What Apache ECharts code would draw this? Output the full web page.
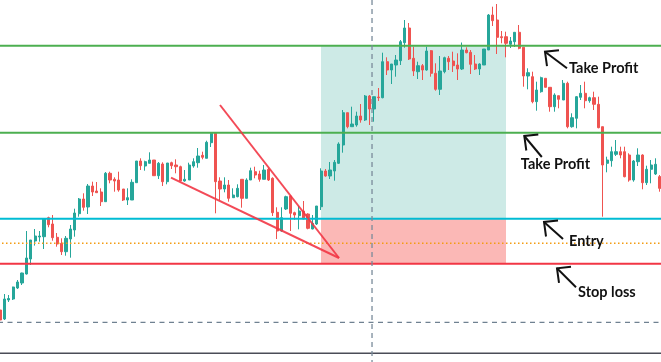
<!DOCTYPE html>
<html><head><meta charset="utf-8">
<script src="https://cdn.jsdelivr.net/npm/echarts@6/dist/echarts.min.js"></script>
<style>html,body{margin:0;padding:0;background:#fff}#c{width:661px;height:362px}</style>
</head><body><div id="c"></div>
<script>
// candle OHLC values: [open, close, low, high]
const candles = [
[690,680,678,693],[681,701,680,706],[700,701.5,698,705],[701,713,700,713.3],[712,718,711,720],
[717,727,715,727.3],[726,742,725.5,769],[741,760,735,760],[759,764,754.4,771],[763,764,758.3,769],
[763.3,781.3,751,781.3],[782.3,775.3,772.7,783.3],[776,762.3,759.3,785],[762.7,756,753.3,767],[756.7,748.3,745,761.7],
[748.3,761.7,744.3,764],[761,771,742.3,775],[770,787,763.3,791.3],[786.3,801,783.3,802],[801,792.7,789.3,806.7],
[793,814,786,816],[814,808,804,818.3],[809,807.3,807.3,818],[808,798.3,794,811.7],[798.3,826.7,798.3,828],
[826.7,820,816.7,828.3],[820.7,819,808.3,822.7],[820,810,808.3,828.3],[811,800,799,811],[800,802.3,795,811.7],
[800,817.7,800,820.7],[817.3,839,817.3,839],[839,834.3,830,841.7],[834,838.3,829.3,839.3],[836.7,840,836.7,847.7],
[840,824.3,824.3,840],[824.3,836.7,821,838],[836,818.3,814,837.7],[818.3,837,815.7,837],[837.3,834.3,831,838.3],
[835,833.3,826.7,840.7],[833.3,819,819,834.3],[819,820.7,818.3,830],[820,835,820,837.3],[834,838.3,832.3,841.7],
[837.3,844,832.3,852],[844.7,842.7,840.7,848.3],[841.7,857.7,841.7,859.3],[857.3,866.7,853,868],[866.7,818.3,786.7,868],
[819,811,800,822.7],[811,815,807.7,822.7],[815,801.7,798.3,820],[802.3,805,802.3,811.7],[803.3,811.7,802.7,815.7],
[820.7,801.7,792.3,820.7],[801.7,820,801.7,821.7],[820,829.3,820,832.3],[828.3,825,821.7,833.3],[826,820.7,818.3,829.3],
[820.7,830,820.7,835],[830.7,820,819,832.3],[821.7,787.3,784,822.7],[787.7,769,761,792.7],[769,782.3,768.3,792.7],
[791,803.3,790,804.3],[804,786.7,769,805],[787.3,785,780,788.3],[784.3,789,770.7,794],[789,781,780.7,799],
[786,771.7,770.7,786.7],[771,776.7,770.7,785],[776,794,775,794],[793.3,829,790,831.7],[829,824,823.3,831],
[824,830,821,838],[829,837.7,819.3,840],[836.7,856,836,857.7],[855,887.3,847.3,890],[887.3,873.3,871.7,887.3],
[873.3,876,873.3,893.3],[875,884,873.3,888.3],[884,880,877.3,896],[880,904,879,905],[904,891,875,905],
[891,903.3,878.3,903.3],[903,902.3,899,912],[902.3,938.3,901.7,947.3],[938.3,930,925,942.7],[930,936,916,936],
[935,940,923.3,945],[939.3,958.3,935,960],[957.3,972,952.3,980],[972,941,940,977],[941.7,929,924,953.3],
[928.3,934.3,921,938.3],[934.3,930,920,936],[930,949,929.3,953.3],[949.3,926.7,923.3,950],[926.7,910.7,909.3,936.7],
[910.7,929,905,944],[928.3,942.3,926.7,943.3],[941.7,938.3,930,944],[939,934.3,928,948.3],[935,931,920,946.7],
[931,950,930,957.5],[950,947.3,946.7,952.7],[947.7,935.7,926,950],[936,931,930,945],[931,936,925,936.7],
[935,951,935,951],[950,985,950,986],[985,979.3,974,993.3],[980,962.7,946,996],[963.3,962.3,956.7,969],
[963.3,956.7,942.7,968.3],[955.7,959,952,963],[958.3,967.7,953,967.7],[967.7,951.7,950.7,975],[952.7,924,913.3,952.7],
[924,927.3,910.7,931.7],[923.3,898.3,896.7,928.3],[898.3,910,889.3,918.3],[908.3,922.3,907.3,923.3],[921.7,912.7,912.7,921.7],
[912.7,893.3,888.3,912.7],[893.3,905,888.3,906.7],[904.3,900.7,891.7,904.3],[900,916.7,900,920],[916.7,873.3,871.7,918.3],
[873.3,882.3,872.3,886.7],[881.7,903.3,871.7,904],[902.7,906.7,900,915],[906.7,899.3,891.7,918.3],[899.3,902.3,897.3,903.3],
[902.3,895.7,890,908.3],[895.7,872.3,871.7,903.3],[873.3,835,783.3,873.3],[836.7,840,827.7,843.3],[839.3,848.3,833.3,853.3],
[845.7,848.3,844,860],[848.3,845,841.7,853.3],[848.3,823.3,822.7,853.3],[845,820,818.3,846.7],[820,839,818.3,840],
[838.3,845,834,851.7],[845,817.3,810.7,845.7],[817.3,830.7,815,834.3],[830.7,835,816.7,840],[826,835.7,825,841.7],
[823.3,811.7,808.3,825]
];
const categories = candles.map((_, i) => String(i));

// price levels
const levelPrices = [954.3, 867.3, 781.3, 756.7, 736.3, 677.7, 646.7];
const levelNames  = ['Take Profit 2', 'Take Profit 1', 'Entry', 'Mid', 'Stop loss', 'Low', 'Base'];
const levelColors = ['#4caf50', '#4caf50', '#00bcd4', '#f39c12', '#f23645', '#6f8191', '#4a4c57'];
const levelWidths = [2, 2, 2, 1.5, 2, 1.3, 1.6];
const levelDashes = [null, null, null, [1.5, 2.5], null, [5, 4.5], null];

// position tool zones: [x start, x end, top price, bottom price]
const zoneProfit = [72.95, 115, 954.3, 781.3];
const zoneLoss   = [72.95, 115, 781.3, 736.3];

// falling wedge trend lines: [x1, p1, x2, p2]
const wedgeUpper = [50, 895, 77.05, 742];
const wedgeLower = [38.86, 822.3, 77.05, 742];

// vertical cursor line position
const cursorX = 84.55;

// annotations: arrow tip [x, price]
const noteLabels = ['Take Profit', 'Take Profit', 'Entry', 'Stop loss'];
const noteX      = [123.86, 119.16, 123.64, 126.59];
const notePrice  = [948.3, 864, 778, 731.7];
// styling offsets in pixels (shaft end, text anchor)
const noteShaft = [[22,16.5],[17.5,21],[19,17],[19,19]];
const noteText  = [[24,16.3],[-3.5,28],[25,19.5],[21,24]];

const chart = echarts.init(document.getElementById('c'), null, {renderer: 'canvas'});

function levelRender(params, api) {
  const i = params.dataIndex;
  const cs = params.coordSys;
  const y = api.coord([0, levelPrices[i]])[1];
  const style = {stroke: levelColors[i], lineWidth: levelWidths[i], fill: null};
  if (levelDashes[i]) style.lineDash = levelDashes[i];
  return {type: 'line', shape: {x1: cs.x - 2, y1: y, x2: cs.x + cs.width + 3, y2: y}, style};
}

chart.setOption({
  animation: false,
  backgroundColor: '#ffffff',
  grid: {left: 0, right: 1, top: 0, bottom: 0},
  xAxis: [
    {type: 'category', data: categories, boundaryGap: false, show: false},
    {type: 'value', min: 0, max: categories.length - 1, show: false}
  ],
  yAxis: {type: 'value', min: 638, max: 1000, show: false, splitLine: {show: false}},
  series: [
    {
      type: 'custom', name: 'zones', xAxisIndex: 1, z: 1, silent: true, clip: false,
      data: [zoneProfit, zoneLoss],
      renderItem(params, api) {
        const p1 = api.coord([api.value(0), api.value(2)]);
        const p2 = api.coord([api.value(1), api.value(3)]);
        return {type: 'rect', shape: {x: p1[0], y: p1[1], width: p2[0] - p1[0], height: p2[1] - p1[1]},
          style: {fill: params.dataIndex === 0 ? '#cdeae6' : '#fbb8b6'}};
      }
    },
    {
      type: 'candlestick', name: 'price', z: 2,
      data: candles, barWidth: 2.6,
      itemStyle: {color: '#26a69a', color0: '#ef5350', borderColor: '#26a69a', borderColor0: '#ef5350', borderWidth: 1}
    },
    {
      type: 'custom', name: 'levels', xAxisIndex: 1, z: 3, silent: true, clip: false,
      data: levelPrices.map((p, i) => [0, p]),
      renderItem: levelRender
    },
    {
      type: 'custom', name: 'cursor', xAxisIndex: 1, z: 3, silent: true, clip: false,
      data: [[cursorX, 1000]],
      renderItem(params, api) {
        const cs = params.coordSys;
        const x = api.coord([api.value(0), 1000])[0];
        return {type: 'line', shape: {x1: x, y1: cs.y, x2: x, y2: cs.y + cs.height},
          style: {stroke: '#7a8b9a', lineWidth: 1.3, lineDash: [5, 4]}};
      }
    },
    {
      type: 'custom', name: 'wedge', xAxisIndex: 1, z: 4, silent: true, clip: false,
      data: [wedgeUpper, wedgeLower],
      renderItem(params, api) {
        const a = api.coord([api.value(0), api.value(1)]);
        const b = api.coord([api.value(2), api.value(3)]);
        return {type: 'line', shape: {x1: a[0], y1: a[1], x2: b[0], y2: b[1]},
          style: {stroke: '#f23645', lineWidth: 2, opacity: 0.9}};
      }
    },
    {
      type: 'custom', name: 'notes', xAxisIndex: 1, z: 5, silent: true, clip: false,
      data: noteX.map((x, i) => [x, notePrice[i]]),
      renderItem(params, api) {
        const i = params.dataIndex;
        const p = api.coord([api.value(0), api.value(1)]);
        const s = noteShaft[i], t = noteText[i];
        return {type: 'group', children: [
          {type: 'polyline', shape: {points: [[p[0] + s[0], p[1] + s[1]], [p[0], p[1]]]},
            style: {stroke: '#111', lineWidth: 2, fill: null}},
          {type: 'polyline', shape: {points: [[p[0] + 14, p[1] - 1.5], [p[0], p[1]], [p[0] + 2, p[1] + 14.5]]},
            style: {stroke: '#111', lineWidth: 2, fill: null}},
          {type: 'text', x: p[0] + t[0], y: p[1] + t[1],
            style: {text: noteLabels[i], font: 'bold 14.5px Lato', fill: '#111', align: 'left', verticalAlign: 'middle'}}
        ]};
      }
    }
  ]
});
</script>
</body></html>
